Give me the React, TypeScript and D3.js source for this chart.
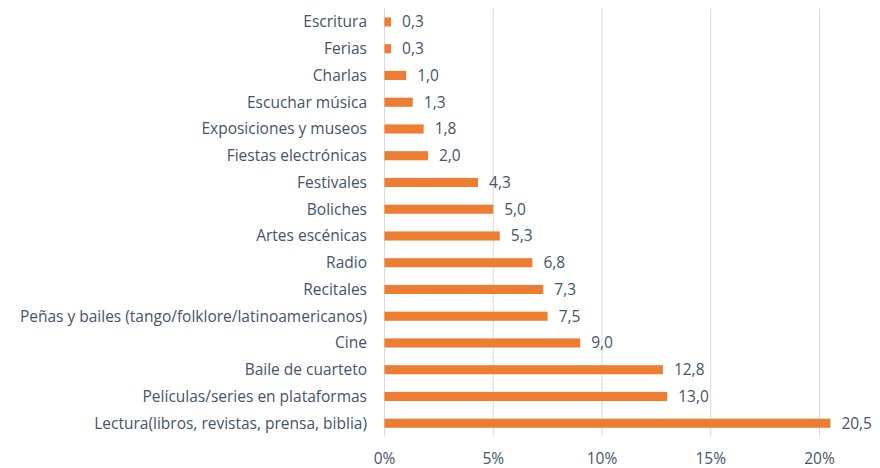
import React from "react";
import * as d3 from "d3";

const categories = [
  "Escritura",
  "Ferias",
  "Charlas",
  "Escuchar música",
  "Exposiciones y museos",
  "Fiestas electrónicas",
  "Festivales",
  "Boliches",
  "Artes escénicas",
  "Radio",
  "Recitales",
  "Peñas y bailes (tango/folklore/latinoamericanos)",
  "Cine",
  "Baile de cuarteto",
  "Películas/series en plataformas",
  "Lectura(libros, revistas, prensa, biblia)",
];
const values = [0.3, 0.3, 1.0, 1.3, 1.8, 2.0, 4.3, 5.0, 5.3, 6.8, 7.3, 7.5, 9.0, 12.8, 13.0, 20.5];
const ticks = [0, 5, 10, 15, 20];

const W = 880;
const H = 468;
const left = 384.5;
const right = 819.5;
const top = 8.6;
const bottom = 436.6;
const FONT = "'Open Sans', sans-serif";
const FS = 15.5;
const TEXT = "#44546A";

export default function App() {
  const x = d3.scaleLinear().domain([0, 20]).range([left, right]);
  const y = d3.scaleBand().domain(categories).range([top, bottom]).paddingInner(0.66).paddingOuter(0.33);
  const fmt = (v: number) => v.toFixed(1).replace(".", ",");
  return (
    <svg width={W} height={H} style={{ position: "absolute", left: 0, top: 0, background: "#fff" }}>
      {ticks.map((t) => (
        <line key={t} x1={x(t)} x2={x(t)} y1={top} y2={bottom} stroke="#D9D9D9" strokeWidth={1} />
      ))}
      {categories.map((c, i) => (
        <g key={c}>
          <rect x={x(0)} y={y(c)!} width={x(values[i]) - x(0)} height={y.bandwidth()} fill="#ED7D31" />
          <text
            x={x(values[i]) + 11}
            y={y(c)! + y.bandwidth() / 2}
            dy="0.35em"
            fontFamily={FONT}
            fontSize={FS}
            fill={TEXT}
          >
            {fmt(values[i])}
          </text>
          <text
            x={367}
            y={y(c)! + y.bandwidth() / 2}
            dy="0.35em"
            textAnchor="end"
            fontFamily={FONT}
            fontSize={FS}
            fill={TEXT}
          >
            {c}
          </text>
        </g>
      ))}
      {ticks.map((t) => (
        <text key={t} x={x(t)} y={464} textAnchor="middle" fontFamily={FONT} fontSize={FS} fill={TEXT}>
          {t}%
        </text>
      ))}
    </svg>
  );
}
